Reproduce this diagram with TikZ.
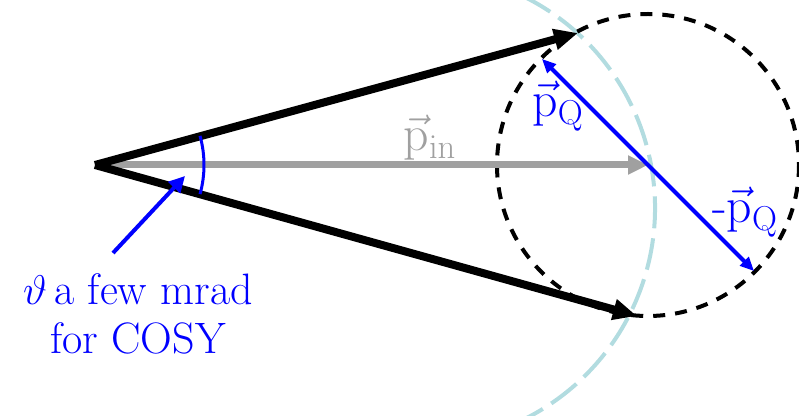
\documentclass[tikz,border=0pt]{standalone}
\usepackage{amsmath}
\usepackage{amssymb}
\usepackage{xcolor}
\usepackage{tikz}
\usetikzlibrary{arrows.meta,positioning,calc}

\definecolor{pblue}{RGB}{0,0,255}
\definecolor{pgray}{RGB}{160,160,160}
\definecolor{shell}{RGB}{178,220,224}

\begin{document}
\begin{tikzpicture}[x=0.5pt, y=-0.5pt,
    beam/.style={line width=4pt, -{Triangle[length=12pt,width=10pt]}},
    incoming/.style={line width=3.5pt, color=pgray, -{Triangle[length=10pt,width=9pt]}},
    recoil/.style={line width=2pt, color=pblue, {Triangle[length=7pt,width=6pt]}-{Triangle[length=7pt,width=6pt]}},
    lbl/.style={font=\fontsize{24}{28}\selectfont, inner sep=1pt},
    note/.style={font=\fontsize{22}{24.5}\selectfont, inner sep=1pt, align=center, color=pblue}
]

\useasboundingbox (0,0) rectangle (799,416);
\clip (0,0) rectangle (799,416);

%% Points
\coordinate (apex) at (95,165);
\coordinate (ctr) at (648,165);
\coordinate (up) at (578,33);
\coordinate (down) at (637,316);
\coordinate (pq) at ($(ctr)+(225:150)$);
\coordinate (mpq) at ($(ctr)+(45:150)$);

%% Spheres
\draw[line width=2pt, color=shell, dash pattern=on 16pt off 5pt] ($(419,208)+(-64:236)$) arc (-64:64:236);
\draw[line width=2pt, dash pattern=on 6pt off 5pt] (ctr) circle (151);

%% Momenta
\draw[incoming] (apex) -- (ctr);
\draw[beam] (apex) -- (up);
\draw[beam] (apex) -- (down);
\draw[recoil] (pq) -- (mpq);

%% Opening angle
\draw[line width=1.5pt, color=pblue] ($(apex)+(-15.5:109)$) arc (-15.5:15.5:109);

%% Labels
\node[lbl, color=pgray] (pin) at (430,138) {$\vec{\mathrm{p}}_{\mathrm{in}}$};
\node[lbl, color=pblue] (pQ) at (558,106) {$\vec{\mathrm{p}}_{\mathrm{Q}}$};
\node[lbl, color=pblue] (mpQ) at (745,212) {-$\vec{\mathrm{p}}_{\mathrm{Q}}$};
\node[note] (theta) at (138,314) {$\vartheta$\,a few mrad\\for COSY};
\coordinate (tail) at (113,253);
\coordinate (tip) at (185,176);
\draw[line width=2pt, color=pblue, -{Triangle[length=8pt,width=8pt]}] (tail) -- (tip);

\end{tikzpicture}
\end{document}
